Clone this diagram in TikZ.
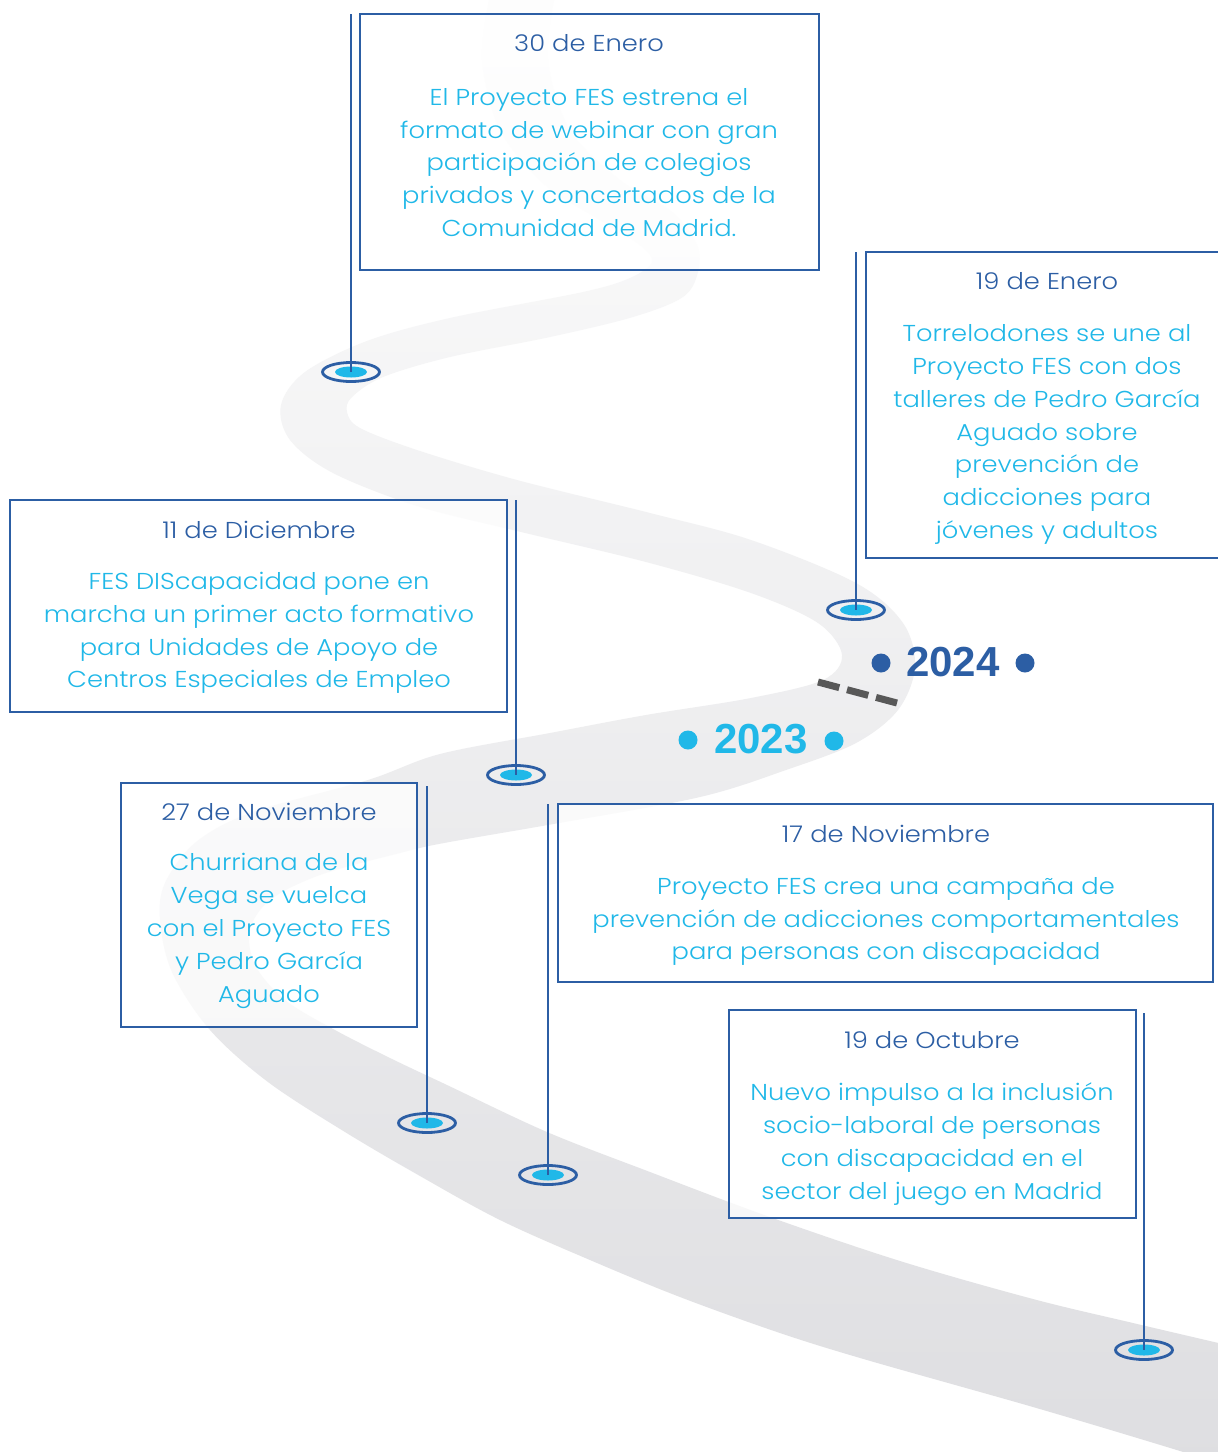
\documentclass[tikz,border=0pt]{standalone}
\usepackage{fontspec}
\setmainfont{Poppins Light}[FakeStretch=1.12]
\newfontfamily\yearfont{Liberation Sans}
\usetikzlibrary{shapes.geometric}
\definecolor{fesblue}{RGB}{44,94,164}
\definecolor{fescyan}{RGB}{32,184,232}
\definecolor{dashgray}{RGB}{88,88,88}
\definecolor{roadtop}{RGB}{253,253,253}
\definecolor{roadmid}{RGB}{236,236,237}
\definecolor{roadbot}{RGB}{222,222,225}
\tikzset{
  evbox/.style={rectangle, draw=fesblue, line width=2.4pt, fill=white, fill opacity=0.75, inner sep=0pt},
  datetxt/.style={text=fesblue, font=\fontsize{23}{32.8}\selectfont, inner sep=0pt},
  bodytxt/.style={text=fescyan, font=\fontsize{23}{32.8}\selectfont, align=center, inner sep=0pt},
  marker/.style={ellipse, draw=fesblue, line width=2.8pt, minimum width=57pt, minimum height=19pt, inner sep=0pt},
  pinline/.style={draw=fesblue, line width=1.8pt},
  yeardot/.style={circle, inner sep=0pt, minimum size=19pt},
  yeartxt/.style={font=\yearfont\bfseries\fontsize{42}{42}\selectfont, inner sep=0pt},
  roaddash/.style={draw=dashgray, line width=7pt, dash pattern=on 22pt off 8pt},
}
\begin{document}
\begin{tikzpicture}[x=1pt,y=-1pt]
\useasboundingbox (0,0) rectangle (1218,1452);
\clip (0,0) rectangle (1218,1452);
\fill[white] (0,0) rectangle (1218,1452);

% road
\path[top color=roadtop, middle color=roadmid, bottom color=roadbot]
  plot[smooth, tension=0.55] coordinates {
   (490,-5) (482,60) (500,130) (545,185) (600,220) (640,245) (652,262) (630,278)
   (583,292) (450,318) (367,341) (305,372) (281,405) (290,440) (333,473) (417,506)
   (517,531) (646,562) (751,593) (818,623) (842,655) (823,680) (751,698) (646,715)
   (550,733) (440,754) (368,780) (253,812) (196,842) (165,883) (160,920) (172,972)
   (210,1030) (268,1082) (345,1132) (420,1176) (500,1220) (590,1260) (680,1297)
   (780,1333) (867,1360) (1033,1407) (1167,1447) (1240,1470)}
  -- plot[smooth, tension=0.55] coordinates {
   (1240,1348) (1133,1323) (1033,1299) (900,1261) (767,1216) (650,1172)
   (547,1132) (447,1085) (390,1058) (335,1030) (285,1000) (255,965) (250,930)
   (270,900) (320,875) (400,853) (444,843) (559,823) (700,797) (786,770) (856,743)
   (898,710) (915,667) (903,623) (856,583) (751,540) (650,513) (517,480) (417,450)
   (360,428) (347,412) (352,397) (383,377) (450,357) (550,337) (633,317) (683,297)
   (698,272) (697,245) (672,212) (620,180) (570,130) (548,60) (555,-5)}
  -- cycle;

% year change dashes
\coordinate (ds1) at (818,682);
\coordinate (ds2) at (897,703);
\draw[roaddash] (ds1) -- (ds2);

% year labels
\node[yeartxt, text=fesblue] (y24) at (953,662) {2024};
\node[yeardot, fill=fesblue] (y24a) at (881,663) {};
\node[yeardot, fill=fesblue] (y24b) at (1025,663) {};
\node[yeartxt, text=fescyan] (y23) at (761,739) {2023};
\node[yeardot, fill=fescyan] (y23a) at (688,740) {};
\node[yeardot, fill=fescyan] (y23b) at (834,741) {};

% markers
\node[marker] (m1) at (351,372) {};
\node[marker] (m2) at (856,610) {};
\node[marker] (m3) at (516,775) {};
\node[marker] (m4) at (427,1123) {};
\node[marker] (m5) at (548,1175) {};
\node[marker] (m6) at (1144,1350) {};
\foreach \m in {m1,m2,m3,m4,m5,m6}
  \fill[fescyan] (\m.center) ellipse[x radius=16pt, y radius=5.5pt];

% pin tops
\coordinate (p1) at (351,14);
\coordinate (p2) at (856,252);
\coordinate (p3) at (516,500);
\coordinate (p4) at (427,786);
\coordinate (p5) at (548,804);
\coordinate (p6) at (1144,1013);
\draw[pinline] (p1) -- (m1.center);
\draw[pinline] (p2) -- (m2.center);
\draw[pinline] (p3) -- (m3.center);
\draw[pinline] (p4) -- (m4.center);
\draw[pinline] (p5) -- (m5.center);
\draw[pinline] (p6) -- (m6.center);

% boxes
\node[evbox, minimum width=459pt, minimum height=256pt] (b1) at (589.5,142) {};
\node[evbox, minimum width=356pt, minimum height=306pt] (b2) at (1044,405) {};
\node[evbox, minimum width=497pt, minimum height=212pt] (b3) at (258.5,606) {};
\node[evbox, minimum width=296pt, minimum height=244pt] (b4) at (269,905) {};
\node[evbox, minimum width=655pt, minimum height=178pt] (b5) at (885.5,893) {};
\node[evbox, minimum width=407pt, minimum height=208pt] (b6) at (932.5,1114) {};

% texts
\node[datetxt] (d1) at (589,43) {30 de Enero};
\node[bodytxt] (t1) at (589,162.5) {El Proyecto FES estrena el\\formato de webinar con gran\\participación de colegios\\privados y concertados de la\\Comunidad de Madrid.};

\node[datetxt] (d2) at (1047,281) {19 de Enero};
\node[bodytxt] (t2) at (1047,434.5) {Torrelodones se une al\\Proyecto FES con dos\\talleres de Pedro García\\Aguado sobre\\prevención de\\adicciones para\\jóvenes y adultos};

\node[datetxt] (d3) at (259,530) {11 de Diciembre};
\node[bodytxt] (t3) at (259,633) {FES DIScapacidad pone en\\marcha un primer acto formativo\\para Unidades de Apoyo de\\Centros Especiales de Empleo};

\node[datetxt] (d4) at (269,812) {27 de Noviembre};
\node[bodytxt] (t4) at (269,931) {Churriana de la\\Vega se vuelca\\con el Proyecto FES\\y Pedro García\\Aguado};

\node[datetxt] (d5) at (886,834) {17 de Noviembre};
\node[bodytxt] (t5) at (886,921.5) {Proyecto FES crea una campaña de\\prevención de adicciones comportamentales\\para personas con discapacidad};

\node[datetxt] (d6) at (932,1040) {19 de Octubre};
\node[bodytxt] (t6) at (932,1144) {Nuevo impulso a la inclusión\\socio-laboral de personas\\con discapacidad en el\\sector del juego en Madrid};
\end{tikzpicture}
\end{document}
